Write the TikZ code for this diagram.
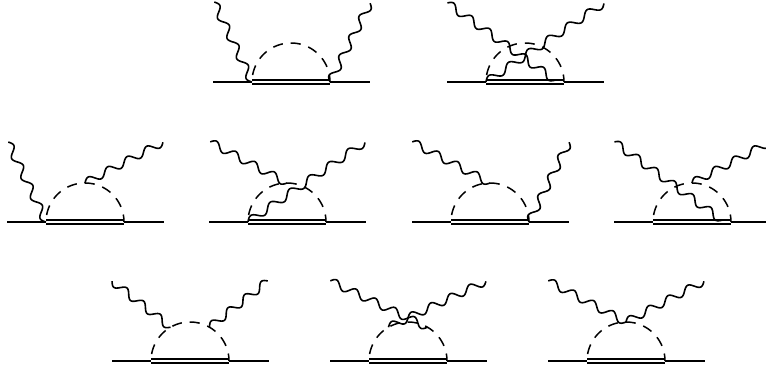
\documentclass[tikz,border=0pt]{standalone}
\tikzset{
  fermion/.style={line width=1.5pt},
  scalar/.style={line width=1.5pt,dash pattern=on 10pt off 8pt,dash phase=11pt},
  photon/.style={line width=1.6pt,line join=round}
}
% local origin: left end of the double line on the fermion line
\newcommand{\basegraph}{%
  \draw[fermion] (-39,0) -- (0,0);
  \draw[fermion] (78,0) -- (118,0);
  \draw[fermion] (0,-1.8) -- (78,-1.8);
  \draw[fermion] (0,1.8) -- (78,1.8);
  \draw[scalar] plot[domain=180:0,samples=90] ({39+39*cos(\x)},{-39*sin(\x)});
}
\newcommand{\phot}[5]{%
  \pgfmathsetmacro{\pdx}{#3-(#1)}
  \pgfmathsetmacro{\pdy}{#4-(#2)}
  \pgfmathsetmacro{\plen}{veclen(\pdx,\pdy)}
  \draw[photon] plot[domain=0:1,samples=301]
    ({#1+\pdx*\x+3.8*sin(360*#5*\x)*\pdy/\plen},
     {#2+\pdy*\x-3.8*sin(360*#5*\x)*\pdx/\plen});
}
\begin{document}
\begin{tikzpicture}[x=1pt,y=-1pt]
\useasboundingbox (0,0) rectangle (766,370);
% row 1
\begin{scope}[shift={(252,82)}]
  \basegraph
  \phot{0}{0}{-38}{-80}{4}
  \phot{78}{0}{118}{-79}{4}
\end{scope}
\begin{scope}[shift={(486,82)}]
  \basegraph
  \phot{0}{0}{118}{-79}{6}
  \phot{69}{-1.8}{-39}{-79}{6}
\end{scope}
% row 2
\begin{scope}[shift={(46,222)}]
  \basegraph
  \phot{0}{0}{-38}{-80}{4}
  \phot{39}{-39}{117}{-80}{4}
\end{scope}
\begin{scope}[shift={(248,222)}]
  \basegraph
  \phot{0}{0}{117}{-80}{6}
  \phot{39}{-39}{-38}{-80}{4}
\end{scope}
\begin{scope}[shift={(451,222)}]
  \basegraph
  \phot{78}{0}{118}{-80}{4}
  \phot{39}{-39}{-39}{-80}{4}
\end{scope}
\begin{scope}[shift={(653,222)}]
  \basegraph
  \phot{69}{-1.8}{-39}{-80}{6}
  \phot{39}{-39}{117}{-80}{4}
\end{scope}
% row 3
\begin{scope}[shift={(151,361)}]
  \basegraph
  \phot{19.5}{-33.8}{-39}{-80}{3.5}
  \phot{58.5}{-33.8}{117}{-80}{3.5}
\end{scope}
\begin{scope}[shift={(369,361)}]
  \basegraph
  \phot{58.5}{-33.8}{-39}{-80}{5}
  \phot{19.5}{-33.8}{117}{-80}{5}
\end{scope}
\begin{scope}[shift={(587,361)}]
  \basegraph
  \phot{39}{-39}{-39}{-80}{4}
  \phot{39}{-39}{117}{-80}{4}
\end{scope}
\end{tikzpicture}
\end{document}
